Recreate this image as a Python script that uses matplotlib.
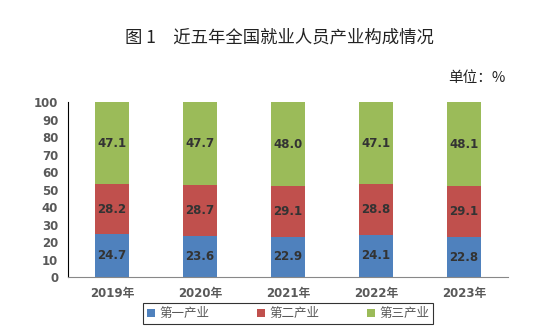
import matplotlib.pyplot as plt
import numpy as np

plt.rcParams['font.family'] = ['Noto Sans CJK SC', 'DejaVu Sans']

years = ['2019年', '2020年', '2021年', '2022年', '2023年']
primary = [24.7, 23.6, 22.9, 24.1, 22.8]
secondary = [28.2, 28.7, 29.1, 28.8, 29.1]
tertiary = [47.1, 47.7, 48.0, 47.1, 48.1]
series_names = ['第一产业', '第二产业', '第三产业']
colors = ['#4F81BD', '#C0504D', '#9BBB59']

fig = plt.figure(figsize=(5.47, 3.3), dpi=100)
ax = fig.add_axes([0.1243, 0.1606, 0.8044, 0.5303])

x = np.arange(len(years))
bottom = np.zeros(len(years))
for vals, name, c in zip([primary, secondary, tertiary], series_names, colors):
    bars = ax.bar(x, vals, width=0.39, bottom=bottom, color=c, label=name)
    for rect, v in zip(bars, vals):
        ax.text(rect.get_x() + rect.get_width() / 2, rect.get_y() + v / 2,
                f'{v:.1f}', ha='center', va='center', fontsize=8.5,
                fontweight='bold', color='#333333', family='DejaVu Sans')
    bottom += np.array(vals)

ax.set_xlim(-0.5, len(years) - 0.5)
ax.set_ylim(0, 100)
ax.set_yticks(range(0, 101, 10))
ax.set_xticks(x)
ax.set_xticklabels(years)
for lbl in ax.get_yticklabels() + ax.get_xticklabels():
    lbl.set_family(['DejaVu Sans', 'Noto Sans CJK SC'])
    lbl.set_fontweight('bold')
    lbl.set_color('#595959')
    lbl.set_fontsize(8.5)
ax.tick_params(axis='both', length=0, pad=7)
ax.spines['top'].set_visible(False)
ax.spines['right'].set_visible(False)
ax.spines['left'].set_color('black')
ax.spines['bottom'].set_color('#888888')

fig.text(0.51, 0.885, '图 1　近五年全国就业人员产业构成情况', ha='center', va='center',
         fontsize=12.5, color='#222222')
fig.text(0.925, 0.765, '单位：%', ha='right', va='center', fontsize=10.5, color='#222222')

leg = fig.legend(loc='center', bbox_to_anchor=(0.527, 0.05), ncol=3, fontsize=9,
                 frameon=True, fancybox=False, edgecolor='black', handlelength=0.6,
                 handleheight=0.6, handletextpad=0.4, columnspacing=3.8,
                 borderpad=0.3, borderaxespad=0)
leg.get_frame().set_linewidth(0.8)
for t in leg.get_texts():
    t.set_color('#595959')

fig.savefig('out.png', dpi=100)
